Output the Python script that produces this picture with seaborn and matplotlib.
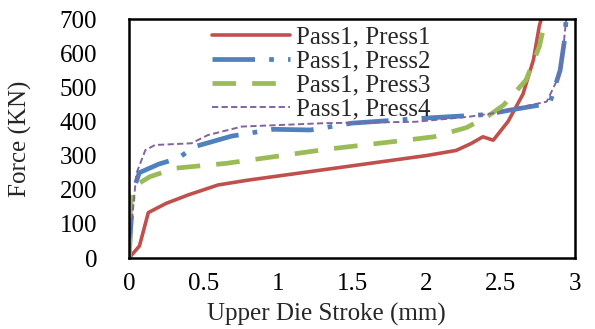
import matplotlib
matplotlib.use("Agg")
import matplotlib.pyplot as plt
import seaborn as sns
import pandas as pd

# Force–stroke curves for the first pass at four press settings
press1_x = [0, 0.02, 0.07, 0.13, 0.25, 0.40, 0.60, 0.80, 1.00, 1.25, 1.50, 1.75, 2.00, 2.20, 2.30, 2.38, 2.45, 2.55, 2.65, 2.72, 2.76, 2.78]
press1_y = [0, 10, 35, 133, 160, 185, 214, 228, 240, 255, 270, 285, 300, 315, 335, 355, 345, 400, 480, 580, 680, 710]

press2_x = [0, 0.01, 0.03, 0.07, 0.20, 0.33, 0.44, 0.69, 0.83, 0.97, 1.22, 1.50, 2.00, 2.40, 2.56, 2.83, 2.90, 2.93, 2.94, 2.95]
press2_y = [0, 80, 200, 250, 275, 292, 326, 357, 367, 377, 375, 395, 410, 420, 433, 453, 550, 640, 697, 710]

press3_x = [0, 0.005, 0.01, 0.03, 0.14, 0.31, 0.65, 0.98, 1.32, 1.82, 2.05, 2.27, 2.41, 2.52, 2.67, 2.76, 2.80, 2.81]
press3_y = [0, 23, 150, 209, 238, 263, 277, 297, 318, 343, 355, 382, 414, 448, 521, 619, 697, 710]

press4_x = [0, 0.007, 0.05, 0.11, 0.175, 0.42, 0.53, 0.76, 1.32, 1.93, 2.29, 2.45, 2.81, 2.89, 2.92, 2.94, 2.95]
press4_y = [0, 53, 248, 316, 331, 336, 360, 385, 395, 399, 414, 424, 458, 531, 609, 697, 710]

labels = ["Pass1, Press1", "Pass1, Press2", "Pass1, Press3", "Pass1, Press4"]
colors = ["#C0504D", "#4F81BD", "#9BBB59", "#8064A2"]
widths = [2.6, 3.4, 3.4, 1.4]
dash_styles = ["-", (0, (9, 3, 1, 3)), (0, (5, 3.4)), (0, (3.2, 1.7))]

sns.set_style("white")
plt.rcParams["font.family"] = ["Liberation Serif", "DejaVu Serif"]

fig = plt.figure(figsize=(5.95, 3.29), dpi=100)
ax = fig.add_axes([0.2168, 0.2158, 0.9664 - 0.2168, 0.9422 - 0.2158])

series = [(press1_x, press1_y), (press2_x, press2_y), (press3_x, press3_y), (press4_x, press4_y)]
for (xs, ys), lab, col, lw, ls in zip(series, labels, colors, widths, dash_styles):
    df = pd.DataFrame({"stroke": xs, "force": ys})
    sns.lineplot(data=df, x="stroke", y="force", ax=ax, color=col, lw=lw,
                 linestyle=ls, label=lab, sort=False, estimator=None)

ax.set_xlim(0, 3)
ax.set_ylim(0, 700)
ax.set_xticks([0, 0.5, 1, 1.5, 2, 2.5, 3])
ax.set_xticklabels(["0", "0.5", "1", "1.5", "2", "2.5", "3"])
ax.set_yticks(range(0, 701, 100))
ax.tick_params(axis="both", direction="in", length=7, width=1.5, labelsize=18, colors="black")
ax.tick_params(axis="x", pad=11)
ax.tick_params(axis="y", pad=23)
for s in ax.spines.values():
    s.set_color("black")
    s.set_linewidth(1.8)

ax.set_xlabel("Upper Die Stroke (mm)", fontsize=18, va="center")
ax.set_ylabel("Force (KN)", fontsize=18, va="center")
ax.xaxis.set_label_coords((326.5 - 129) / 446, (258 - 314) / 239)
ax.yaxis.set_label_coords((20 - 129) / 446, 0.5)

leg = ax.legend(loc="upper left", bbox_to_anchor=(212 / 595, 1 - 26 / 329),
                bbox_transform=fig.transFigure, frameon=False, fontsize=18,
                handlelength=3.1, handletextpad=0.28, labelspacing=0.06, borderpad=0, borderaxespad=0)

fig.savefig("out.png", dpi=100)
